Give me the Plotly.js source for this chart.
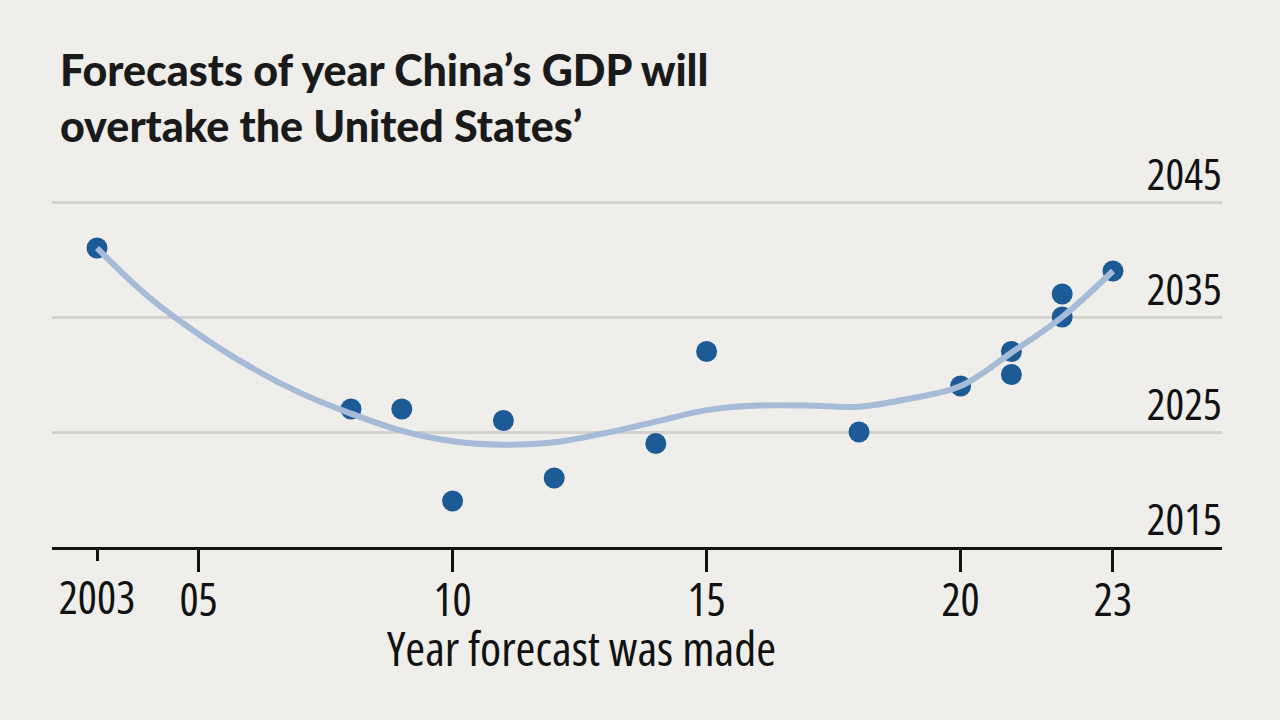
<!DOCTYPE html>
<html>
<head>
<meta charset="utf-8">
<script src="https://cdn.plot.ly/plotly-3.0.1.min.js"></script>
<style>
html,body{margin:0;padding:0;background:#efeeeb;}
#chart{width:1280px;height:720px;}
#chart .xtick text, #chart .ytick text, #chart .x2tick text, #chart .annotation-text {font-stretch: 75% !important;}
</style>
</head>
<body>
<div id="chart"></div>
<script>
// Forecast points: year forecast was made, forecast year China's GDP overtakes US
const forecastMade = [2003, 2008, 2009, 2010, 2011, 2012, 2014, 2015, 2018, 2020, 2021, 2021, 2022, 2022, 2023];
const overtakeYear = [2041, 2027, 2027, 2019, 2026, 2021, 2024, 2032, 2025, 2029, 2032, 2030, 2037, 2035, 2039];

// Smoothed trend line
const trendX = [2003, 2004, 2005, 2006, 2007, 2008, 2009, 2010, 2011, 2012, 2013, 2014, 2015, 2016, 2017, 2018, 2019, 2020, 2021, 2022, 2023];
const trendY = [2041, 2036.8, 2033.5, 2030.7, 2028.4, 2026.6, 2025.1, 2024.2, 2023.9, 2024.1, 2024.9, 2025.9, 2026.9, 2027.3, 2027.3, 2027.2, 2027.9, 2029.0, 2031.9, 2035.0, 2039.0];

const xTickVals = [2005, 2010, 2015, 2020, 2023];
const xTickText = ['05', '10', '15', '20', '23'];
const firstTickVal = [2003];
const firstTickText = ['2003'];
const yTickVals = [2015, 2025, 2035, 2045];
const yTickText = ['2015', '2025', '2035', '2045'];

const narrow = '"Open Sans", "DejaVu Sans Condensed", sans-serif';
const xRange = [2002.114, 2025.146];

const traces = [
  {
    x: trendX, y: trendY, type: 'scatter', mode: 'lines',
    line: {color: '#a5bbd7', width: 6, shape: 'spline', smoothing: 1},
    xaxis: 'x2', yaxis: 'y', hoverinfo: 'skip', showlegend: false
  },
  {
    x: forecastMade, y: overtakeYear, type: 'scatter', mode: 'markers',
    marker: {color: '#1d5b97', size: 21, line: {width: 0}},
    showlegend: false
  }
];

const yLabelAnnotations = yTickVals.map((v, i) => ({
  text: yTickText[i], xref: 'paper', yref: 'y',
  x: 1, y: v, xanchor: 'right', yanchor: 'bottom', align: 'right', yshift: -3, xshift: 2,
  showarrow: false, font: {family: narrow, size: 44, color: '#111'}
}));

const layout = {
  width: 1280, height: 720,
  paper_bgcolor: '#efeeeb', plot_bgcolor: '#efeeeb',
  margin: {l: 52, r: 58, t: 100, b: 173},
  title: {
    text: 'Forecasts of year China’s GDP will<br>overtake the United States’',
    x: 60/1280, xanchor: 'left', xref: 'container',
    y: 1 - 86/720, yanchor: 'top', yref: 'container',
    font: {family: 'Lato, "Open Sans", sans-serif', size: 43, color: '#1a1a1a', weight: 900}
  },
  xaxis: {
    range: xRange, fixedrange: true, tickangle: 0,
    tickmode: 'array', tickvals: xTickVals, ticktext: xTickText,
    ticks: 'outside', ticklen: 22, tickwidth: 3, tickcolor: '#111',
    showline: true, linecolor: '#111', linewidth: 3,
    showgrid: false, zeroline: false,
    tickfont: {family: narrow, size: 45, color: '#111'},
    ticklabelstandoff: -10
  },
  xaxis2: {
    overlaying: 'x', range: xRange, fixedrange: true, tickangle: 0,
    tickmode: 'array', tickvals: firstTickVal, ticktext: firstTickText,
    ticks: 'outside', ticklen: 13, tickwidth: 3, tickcolor: '#111',
    showline: false, showgrid: false, zeroline: false,
    tickfont: {family: narrow, size: 45, color: '#111'},
    ticklabelstandoff: -1
  },
  yaxis: {
    range: [2015, 2053.87], fixedrange: true, side: 'right',
    tickmode: 'array', tickvals: yTickVals, showticklabels: false,
    ticks: '',
    showgrid: true, gridcolor: '#d3d2ce', gridwidth: 3,
    zeroline: false, showline: false
  },
  annotations: yLabelAnnotations.concat([
    {
      text: 'Year forecast was made', xref: 'paper', yref: 'paper',
      x: (581 - 52) / 1170, y: 0, xanchor: 'center', yanchor: 'top', yshift: -66,
      showarrow: false, font: {family: narrow, size: 48, color: '#111'}
    }
  ])
};

Plotly.newPlot('chart', traces, layout, {staticPlot: true, displayModeBar: false});
</script>
</body>
</html>
